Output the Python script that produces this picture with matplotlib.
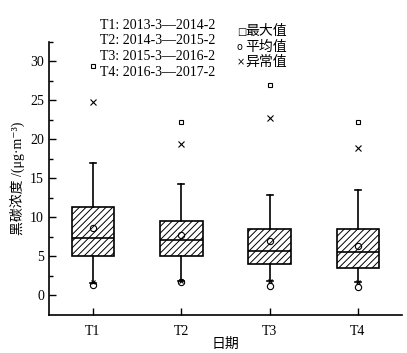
import matplotlib
matplotlib.use("Agg")
import matplotlib.pyplot as plt

plt.rcParams['font.family'] = ['Liberation Serif', 'Noto Sans CJK SC', 'DejaVu Sans']
plt.rcParams['hatch.linewidth'] = 0.7
plt.rcParams['axes.unicode_minus'] = False

categories = ["T1", "T2", "T3", "T4"]
q1 = [5.1, 5.0, 4.05, 3.45]
median = [7.4, 7.1, 5.75, 5.6]
q3 = [11.3, 9.6, 8.5, 8.5]
whis_lo = [1.6, 1.8, 1.8, 1.75]
whis_hi = [17.0, 14.3, 12.9, 13.5]
mean = [8.6, 7.7, 6.95, 6.35]
max_val = [29.4, 22.3, 27.0, 22.2]
outlier_hi = [24.8, 19.4, 22.8, 18.9]
outlier_lo = [1.7, 1.9, 1.8, 1.75]
min_val = [1.35, 1.7, 1.2, 1.1]
period_labels = ["T1: 2013-3\u20142014-2", "T2: 2014-3\u20142015-2",
                 "T3: 2015-3\u20142016-2", "T4: 2016-3\u20142017-2"]

fig = plt.figure(figsize=(4.07, 3.53), dpi=100)
ax = fig.add_axes([0.120, 0.108, 0.868, 0.773])

pos = list(range(1, len(categories) + 1))
stats = []
for i in range(len(categories)):
    stats.append(dict(med=median[i], q1=q1[i], q3=q3[i], whislo=whis_lo[i],
                      whishi=whis_hi[i], mean=mean[i], fliers=[]))

bp = ax.bxp(stats, positions=pos, widths=0.48, showmeans=True, patch_artist=True,
            boxprops=dict(facecolor='white', edgecolor='black', linewidth=1.2, hatch='/////'),
            medianprops=dict(color='black', linewidth=1.2),
            whiskerprops=dict(color='black', linewidth=1.2),
            capprops=dict(color='black', linewidth=1.2),
            capwidths=0.07,
            meanprops=dict(marker='o', markerfacecolor='none', markeredgecolor='black',
                           markersize=4.5, markeredgewidth=0.8))

ax.plot(pos, max_val, linestyle='none', marker='s', markerfacecolor='none',
        markeredgecolor='black', markersize=3.5, markeredgewidth=0.8)
ax.plot(pos, outlier_hi, linestyle='none', marker='x', color='black',
        markersize=4.5, markeredgewidth=0.8)
ax.plot(pos, outlier_lo, linestyle='none', marker='x', color='black',
        markersize=3.5, markeredgewidth=0.8)
ax.plot(pos, min_val, linestyle='none', marker='o', markerfacecolor='none',
        markeredgecolor='black', markersize=4.5, markeredgewidth=0.8)

ax.set_xlim(0.5, 4.5)
ax.set_ylim(-2.5, 32.5)
ax.set_xticks(pos)
ax.set_xticklabels(categories)
ax.set_yticks([0, 5, 10, 15, 20, 25, 30])
ax.set_yticks([2.5, 7.5, 12.5, 17.5, 22.5, 27.5, 32.5], minor=True)
ax.tick_params(axis='both', which='major', direction='in', length=5, width=1.0,
               labelsize=10)
ax.tick_params(axis='y', which='minor', direction='in', length=3, width=1.0)
ax.tick_params(axis='x', pad=7)
ax.spines['top'].set_visible(False)
ax.spines['right'].set_visible(False)
ax.spines['left'].set_linewidth(1.2)
ax.spines['bottom'].set_linewidth(1.2)

ax.set_ylabel("黑碳浓度 /(μg·m\u207b\u00b3)", fontsize=10, labelpad=4)
ax.set_xlabel("日期", fontsize=10, labelpad=0)

for k, t in enumerate(period_labels):
    fig.text(0.246, 0.928 - k * 0.044, t, fontsize=10, va='center', ha='left')

legend_items = [("\u25a1", "最大值"), ("o", "平均值"), ("\u00d7", "异常值")]
for k, (sym, lab) in enumerate(legend_items):
    fig.text(0.582, 0.910 - k * 0.043, sym, fontsize=7, va='center', ha='left',
             family=['DejaVu Sans'])
    fig.text(0.603, 0.910 - k * 0.043, lab, fontsize=10, va='center', ha='left')

fig.savefig("out.png", dpi=100)
